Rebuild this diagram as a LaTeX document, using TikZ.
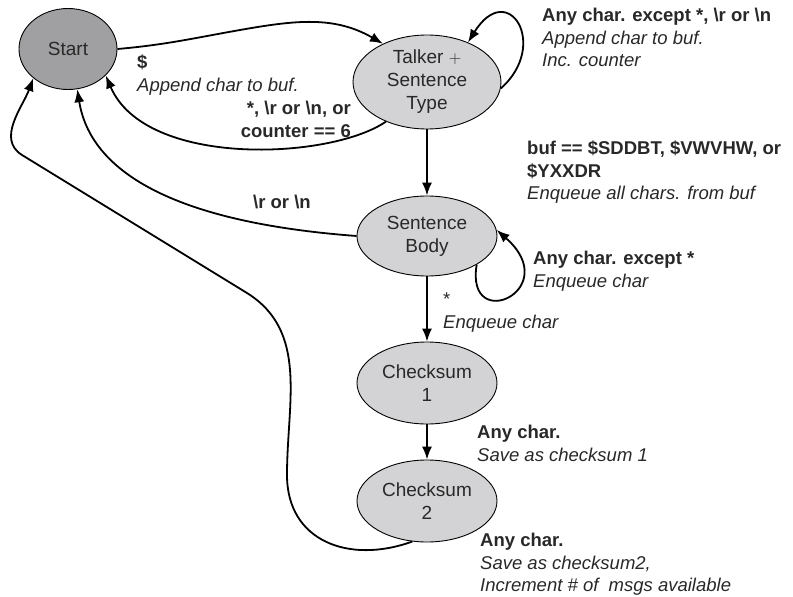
\documentclass[tikz,border=0pt]{standalone}
\usepackage{fontspec}
\setmainfont{Liberation Sans}
\usetikzlibrary{arrows.meta,shapes.geometric}
\definecolor{startgray}{RGB}{160,160,162}
\definecolor{stategray}{RGB}{211,211,213}
\definecolor{textgray}{RGB}{40,40,40}
\newcommand{\bs}{\textbackslash}

\begin{document}
\begin{tikzpicture}[x=1pt,y=1pt,
    state/.style={ellipse, draw=black, line width=0.9pt, fill=stategray, inner sep=0pt,
        align=center, text=textgray, font=\fontsize{19}{23}\selectfont},
    trans/.style={line width=1.8pt, -{Latex[length=13pt,width=10pt]}},
    lbl/.style={anchor=north west, align=left, inner sep=0pt, text=textgray,
        font=\fontsize{18.5}{22.5}\selectfont}]
    \useasboundingbox (0,0) rectangle (793,-597);

    % Stavy
    \node[state, fill=startgray, minimum width=98pt, minimum height=81pt] (start) at (68,-49) {Start};
    \node[state, minimum width=148pt, minimum height=94pt] (talker) at (427,-82) {Talker $+$\\Sentence\\Type};
    \node[state, minimum width=140pt, minimum height=80pt] (body) at (427,-236) {Sentence\\Body};
    \node[state, minimum width=140pt, minimum height=82pt] (ck1) at (427,-383) {Checksum\\1};
    \node[state, minimum width=140pt, minimum height=82pt] (ck2) at (427,-501) {Checksum\\2};

    % Body dlouhe smycky zpet na Start
    \coordinate (loopbot) at (287,-475);
    \coordinate (loopmid) at (247,-293);
    \coordinate (loopleft) at (22,-155);

    % Prechody
    \draw[trans] (start.east) to[out=5,in=190] (240,-30) to[out=10,in=150] (talker.139);
    \draw[trans] (talker.224) .. controls (330,-160) and (145,-168) .. (start.-35);
    \draw[trans] (talker.-5) .. controls (550,-45) and (508,22) .. (talker.44);
    \draw[trans] (talker) -- (body);
    \draw[trans] (body.west) .. controls (170,-222) and (90,-170) .. (start.-77);
    \draw[trans] (body.-30) .. controls (465,-335) and (565,-290) .. (body.5);
    \draw[trans] (body) -- (ck1);
    \draw[trans] (ck1) -- (ck2);
    \draw[trans] (ck2.250) to[out=200,in=-90,looseness=1.2] (loopbot)
        to[out=90,in=-32] (loopmid) -- (loopleft) to[out=148,in=-110] (start.220);

    % Popisky prechodu
    \node[lbl] (ldollar) at (137,-55) {\textbf{\$}\\\textit{Append char to buf.}};
    \node[lbl, anchor=north east, align=right] (lreset) at (351,-101) {\textbf{*, \bs r or \bs n, or}\\\textbf{counter == 6}};
    \node[lbl] (lappend) at (542,-8) {\textbf{Any char. except *, \bs r or \bs n}\\\textit{Append char to buf.}\\\textit{Inc. counter}};
    \node[lbl] (lbuf) at (527,-141) {\textbf{buf == \$SDDBT, \$VWVHW, or}\\\textbf{\$YXXDR}\\\textit{Enqueue all chars. from buf}};
    \node[lbl] (lnewline) at (253,-195) {\textbf{\bs r or \bs n}};
    \node[lbl] (lbody) at (533,-251) {\textbf{Any char. except *}\\\textit{Enqueue char}};
    \node[lbl] (lstar) at (443,-293) {*\\\textit{Enqueue char}};
    \node[lbl] (lck1) at (477,-425) {\textbf{Any char.}\\\textit{Save as checksum 1}};
    \node[lbl] (lck2) at (480,-533) {\textbf{Any char.}\\\textit{Save as checksum2,}\\\textit{Increment \# of\ \ msgs available}};
\end{tikzpicture}
\end{document}
